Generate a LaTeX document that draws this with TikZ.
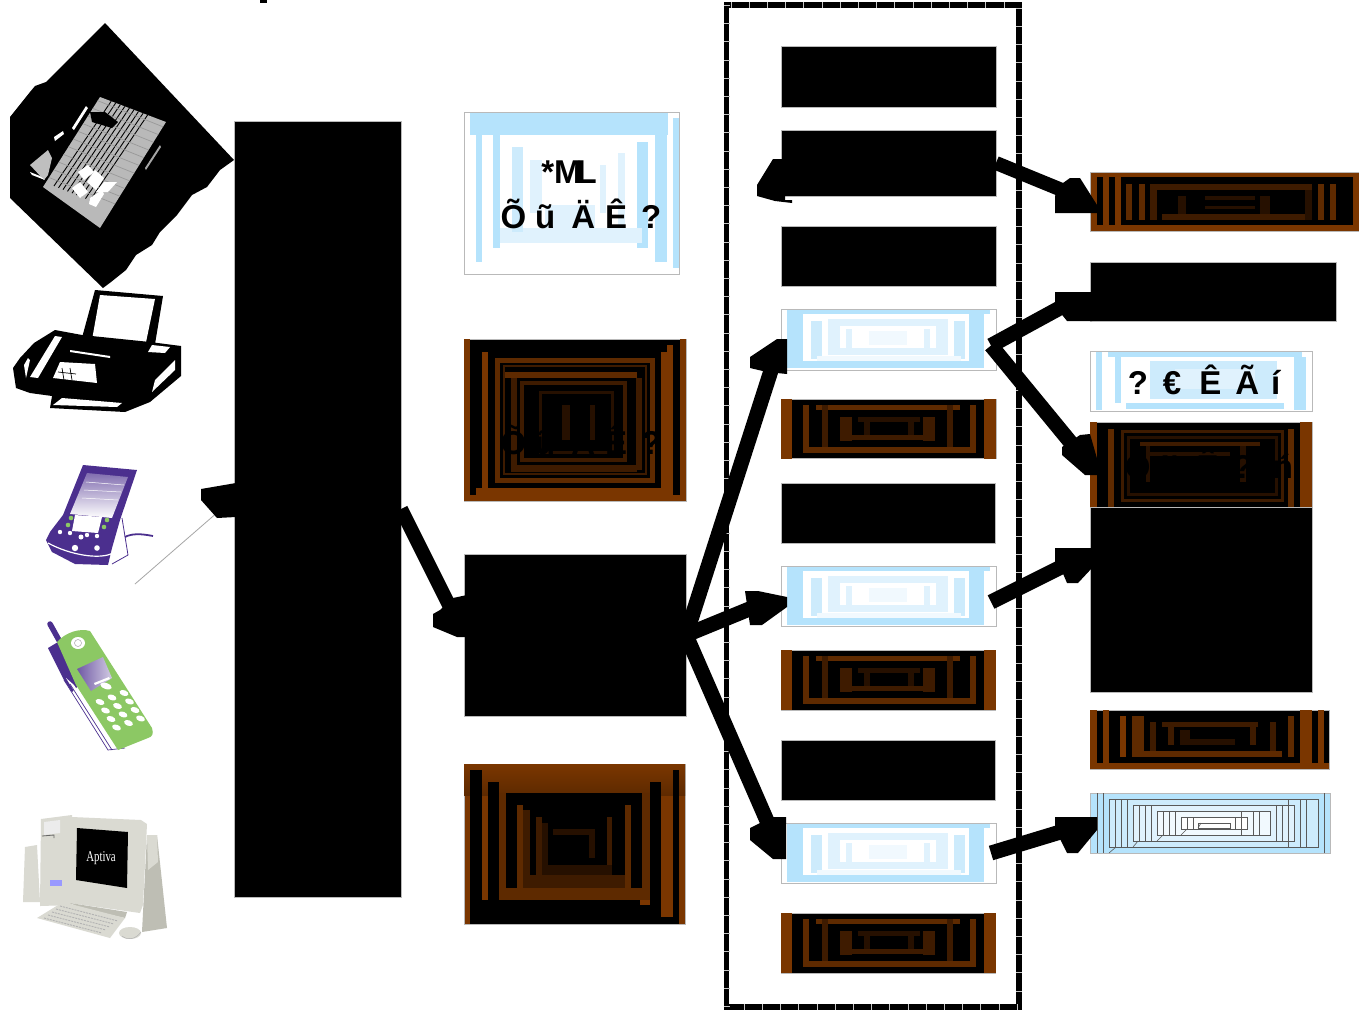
\documentclass[tikz,border=0pt]{standalone}
\usepackage{fontspec}
\setmainfont{Liberation Sans}
\newfontfamily\serifnar{Liberation Serif}
\usetikzlibrary{arrows.meta,calc}
\definecolor{brA}{HTML}{7A3600}
\definecolor{brB}{HTML}{5E2A00}
\definecolor{brC}{HTML}{3E1B00}
\definecolor{brD}{HTML}{261000}
\definecolor{blA}{HTML}{B5E3FC}
\definecolor{blB}{HTML}{CDEBFC}
\definecolor{blC}{HTML}{E0F2FD}
\definecolor{blD}{HTML}{F1F9FE}
\definecolor{purp}{HTML}{4B2F8E}
\definecolor{grn}{HTML}{8CC864}
\definecolor{beige}{HTML}{DADAD2}
\definecolor{beigeD}{HTML}{BEBEB4}
\tikzset{
  bxs/.style={inner sep=0pt,outer sep=0pt,draw=gray!55,line width=.6pt},
  conn/.style={line width=15pt,black,shorten >=9pt,-{Triangle[length=10pt,width=18pt]}},
  thinconn/.style={line width=.8pt,gray!70},
  headfill/.style={fill=black},
  garble/.style={inner sep=0pt,font=\bfseries\fontsize{33}{36}\selectfont,text=black},
}
\newcommand\RR[5]{\fill[#5] (#1,#2) rectangle (#3,#4);}
\newcommand\boxn[6]{\node[bxs,fill=#6,minimum width={(#4)-(#2)},minimum height={(#5)-(#3)}] (#1) at ({((#2)+(#4))/2},{((#3)+(#5))/2}) {};}
\newcommand\patBlue[2]{\begin{scope}[shift={(#1,#2)}]
  \RR{6}{1}{209}{5}{blA}\RR{6}{5}{22}{59}{blA}\RR{188}{5}{203}{59}{blA}\RR{12}{52}{203}{59}{blA}
  \RR{30}{12}{41}{50}{blB}\RR{173}{12}{184}{50}{blB}
  \RR{47}{10}{167}{46}{blC}\RR{59}{17}{155}{39}{white}
  \RR{65}{20}{71}{39}{blC}\RR{143}{20}{149}{39}{blC}\RR{88}{22}{126}{36}{blD}
  \RR{36}{47}{180}{52}{blD}
\end{scope}}
\newcommand\patBrown[2]{\begin{scope}[shift={(#1,#2)}]
  \RR{0}{0}{11}{60}{brA}\RR{203}{0}{215}{60}{brA}
  \RR{22}{6}{28}{54}{brB}\RR{189}{6}{195}{54}{brB}\RR{22}{48}{195}{54}{brB}
  \RR{35}{6}{179}{11}{brB}\RR{41}{6}{47}{48}{brC}\RR{166}{6}{172}{48}{brC}
  \RR{59}{18}{71}{42}{brC}\RR{142}{18}{154}{42}{brC}\RR{59}{36}{154}{41}{brC}
  \RR{77}{18}{139}{23}{brD}\RR{83}{18}{89}{36}{brD}\RR{127}{18}{133}{36}{brD}
\end{scope}}
\begin{document}
\begin{tikzpicture}[x=1pt,y=-1pt]
\useasboundingbox (0,0) rectangle (1359,1010);
\fill[white] (0,0) rectangle (1359,1010);
\RR{260}{0}{267}{3}{black}

% ---------- fax-phone in black diamond
\fill[black] (105,23) -- (234,160) -- (220,170) -- (207,187) -- (192,195) -- (177,215) -- (160,232) -- (152,245) -- (136,255) -- (126,270) -- (111,282) -- (103,288) -- (10,198) -- (10,117) -- (30,92) -- (35,86) -- (46,82) -- (56,72) -- cycle;
\fill[gray!55] (100,97) -- (166,122) -- (100,228) -- (43,187) -- cycle;
\begin{scope}
\clip (100,97) -- (166,122) -- (100,228) -- (43,187) -- cycle;
\foreach \d in {0,6,...,48}{\draw[black,line width=.9pt] ($(112,100)+(\d*.75,\d*.3)$) -- ++(-58,86);}
\foreach \d in {0,9,...,90}{\draw[gray!80,line width=.7pt] ($(96,100)+(\d*-.55,\d*.85)$) -- ++(70,28);}
\end{scope}
\fill[black] (90,112) -- (105,112) -- (118,122) -- (112,128) -- (92,122) -- cycle;
\fill[white] (78,172) -- (88,165) -- (94,172) -- (84,180) -- cycle;
\fill[white] (95,170) -- (104,178) -- (96,190) -- (87,182) -- cycle;
\fill[white] (72,188) -- (80,182) -- (88,192) -- (80,198) -- cycle;
\fill[white] (96,192) -- (104,182) -- (117,182) -- (108,192) -- cycle;
\fill[white] (90,198) -- (102,190) -- (104,194) -- (96,207) -- (89,204) -- cycle;
\fill[white] (74,130) -- (88,108) -- (86,106) -- (72,128) -- cycle;
\fill[white] (54,137) -- (63,131) -- (64,134) -- (55,141) -- cycle;
\fill[gray!50] (30,165) -- (48,150) -- (52,158) -- (48,175) -- (44,180) -- cycle;
\fill[white] (30,172) -- (40,176) -- (45,180) -- (32,175) -- cycle;
\fill[gray!70] (145,168) -- (160,145) -- (161,147) -- (146,170) -- cycle;

% ---------- fax
\fill[black] (95,290) -- (163,296) -- (154,350) -- (80,345) -- cycle;
\fill[white] (100,295) -- (155,299) -- (145,347) -- (92,340) -- cycle;
\fill[black] (34,343) -- (55,330) -- (82,335) -- (150,342) -- (181,346) -- (181,376) -- (150,402) -- (125,412) -- (50,408) -- (52,396) -- (30,393) -- (16,388) -- (13,368) -- (20,358) -- cycle;
\fill[white] (152,345) -- (170,347) -- (165,353) -- (148,352) -- cycle;
\fill[white] (175,360) -- (175,370) -- (152,392) -- (155,380) -- cycle;
\fill[white] (55,336) -- (62,337) -- (38,378) -- (30,377) -- cycle;
\fill[white] (60,362) -- (95,364) -- (97,383) -- (53,378) -- cycle;
\fill[white] (70,350) -- (110,356) -- (110,358) -- (70,352) -- cycle;
\fill[white] (62,398) -- (122,403) -- (117,407) -- (53,405) -- cycle;
\fill[white] (24,365) -- (28,358) -- (30,360) -- (26,378) -- cycle;
\draw[black,line width=.7pt] (58,372) -- (76,374) (62,368) -- (64,380) (70,368) -- (72,380);

% ---------- PDA
\draw[purp,line width=1.8pt] (120,540) .. controls (130,532) and (142,534) .. (153,536);
\fill[white] (122,518) -- (128,560) -- (112,565) -- (108,530) -- cycle;
\draw[purp,line width=.8pt] (122,518) -- (128,555) -- (112,564);
\fill[purp] (83,465) -- (137,470) -- (120,520) -- (112,548) -- (108,565) -- (75,564) -- (52,552) -- (46,540) -- (50,532) -- (63,515) -- cycle;
\shade[top color=purp!70,bottom color=white] (87,473) -- (128,477) -- (112,518) -- (70,514) -- cycle;
\fill[white] (75,515) -- (102,517) -- (98,533) -- (72,531) -- cycle;
\fill[grn] (71,518) circle (2.3pt) (68,525) circle (2.3pt) (107,520) circle (2.3pt) (104,527) circle (2.3pt);
\draw[white,line width=.5pt] (86,482) -- (124,485) (84,490) -- (121,492) (82,498) -- (118,500);
\fill[white] (60,532) circle (2.2pt) (70,533) circle (2.2pt) (87,535) circle (2.2pt) (97,536) circle (2.2pt);
\fill[white] (81,537) circle (2.5pt);
\fill[white] (75,548) circle (3.2pt) (97,548) circle (2.8pt);
\draw[white,line width=1.2pt] (48,543) .. controls (70,555) and (100,560) .. (113,553);

% ---------- mobile
\draw[purp,line width=5.5pt,line cap=round] (50,624) -- (60,642);
\fill[purp] (48,648) -- (58,642) -- (78,686) -- (72,692) -- (64,680) -- cycle;
\fill[white] (66,678) -- (110,749) -- (116,748) -- (74,685) -- cycle;
\draw[purp,line width=.7pt] (64,680) -- (108,750) -- (125,748) (70,684) -- (112,750);
\fill[grn] (57,642) .. controls (66,632) and (80,628) .. (90,631) -- (152,728) .. controls (154,734) and (152,737) .. (148,738) -- (118,750) -- (76,685) -- cycle;
\fill[white] (78,643) circle[x radius=7pt,y radius=6pt];
\draw[gray!70,line width=.5pt] (78,643) circle (3.5pt);
\shade[left color=purp!80,right color=purp!25] (77,669) -- (103,657) -- (112,678) -- (91,691) -- cycle;
\fill[white] (94,683) -- (109,677) -- (110,679) -- (95,685) -- cycle;
\fill[white,rotate around={-20:(106,686)}] (106,686) ellipse[x radius=6pt,y radius=3pt];
\foreach \i in {0,1,2,3}{\foreach \j in {0,1,2}{
  \fill[white,rotate around={-20:({100+\i*5.5+\j*12},{702+\i*8.5-\j*4.5})}] ({100+\i*5.5+\j*12},{702+\i*8.5-\j*4.5}) ellipse[x radius=4.6pt,y radius=2.8pt];}}

% ---------- computer
\fill[beige] (41,819) -- (72,815) -- (72,905) -- (40,906) -- cycle;
\fill[gray!15] (44,822) -- (60,820) -- (60,833) -- (44,835) -- cycle;
\draw[black!60,line width=.8pt] (42,836) -- (54,835) -- (54,838);
\fill[blue!40] (50,880) -- (62,880) -- (62,886) -- (50,886) -- cycle;
\fill[beige] (25,847) -- (37,845) -- (40,902) -- (23,902) -- cycle;
\fill[beigeD] (147,835) -- (157,835) -- (167,928) -- (142,932) -- cycle;
\fill[beige] (147,835) -- (157,835) -- (158,862) -- (148,870) -- cycle;
\fill[beige] (72,817) -- (141,820) -- (147,824) -- (143,905) -- (140,913) -- (70,903) -- cycle;
\fill[black] (77,828) -- (128,832) -- (127,888) -- (76,880) -- cycle;
\node[inner sep=0pt,text=white,font=\serifnar\fontsize{15}{16}\selectfont,xscale=.72] (aptiva) at (101,858) {Aptiva};
\fill[beigeD] (70,903) -- (127,912) -- (125,918) -- (80,908) -- cycle;
\fill[beige] (63,902) -- (125,918) -- (110,938) -- (37,918) -- cycle;
\foreach \i in {0,...,4}{\draw[gray!60,line width=.9pt,dash pattern=on 2pt off 1pt] ($(60,906)+(\i*-4,\i*3)$) -- ++(58,15);}
\fill[beige] (130,933) ellipse[x radius=11pt,y radius=6pt];
\draw[gray!60,line width=.5pt] (122,936) .. controls (128,941) and (136,939) .. (141,932);

% ---------- big left box
\boxn{big}{234}{121}{401}{897}{black}

% ---------- second column
\boxn{a}{464}{112}{679}{274}{white}
\RR{470}{113}{668}{135}{blA}\RR{476}{118}{482}{262}{blA}\RR{493}{130}{500}{248}{blA}
\RR{655}{130}{667}{262}{blA}\RR{673}{118}{679}{268}{blA}\RR{637}{142}{648}{248}{blA}
\RR{500}{228}{642}{243}{blC}\RR{512}{147}{523}{232}{blB}\RR{618}{153}{625}{232}{blC}
\RR{530}{160}{542}{213}{blC}\RR{600}{165}{606}{213}{blC}\RR{545}{205}{595}{228}{blC}
\boxn{b}{464}{339}{686}{501}{black}
\RR{464}{339}{470}{501}{brA}\RR{680}{339}{686}{501}{brA}\RR{464}{495}{686}{501}{brA}
\RR{482}{352}{488}{495}{brA}\RR{661}{352}{667}{495}{brA}\RR{667}{345}{673}{495}{brA}\RR{476}{488}{673}{495}{brA}
\draw[brB,line width=5pt] (497,360) rectangle (652,480);
\draw[brC,line width=2.5pt] (504,366) rectangle (646,474);
\RR{505}{372}{637}{378}{brB}\RR{511}{378}{517}{470}{brC}\RR{636}{378}{642}{470}{brC}\RR{511}{465}{637}{472}{brC}
\draw[brC,line width=4pt] (522,383) rectangle (625,460);
\draw[brD,line width=3pt] (540,392) rectangle (612,452);
\RR{562}{405}{570}{440}{brD}\RR{590}{405}{595}{440}{brD}
\boxn{c}{464}{554}{686}{716}{black}
\boxn{d}{464}{764}{685}{924}{brA}
\shade[top color=brA,bottom color=brB] (464,764) rectangle (685,795);
\RR{470}{770}{482}{924}{black}\RR{470}{900}{640}{924}{black}\RR{488}{782}{499}{900}{black}
\RR{655}{782}{661}{910}{black}\RR{673}{770}{679}{924}{black}\RR{640}{905}{661}{924}{black}\RR{661}{917}{673}{924}{black}
\RR{499}{793}{506}{888}{brB}
\RR{650}{782}{655}{905}{black}
\RR{642}{793}{650}{900}{brB}
\RR{499}{888}{650}{900}{brB}\RR{506}{793}{642}{888}{black}
\RR{517}{805}{523}{888}{brB}\RR{523}{810}{530}{888}{brC}\RR{625}{805}{631}{888}{brB}
\RR{536}{817}{542}{878}{brC}\RR{542}{823}{548}{872}{brD}\RR{607}{817}{612}{870}{brC}
\RR{530}{875}{625}{888}{brC}\RR{542}{865}{612}{875}{brD}
\RR{553}{829}{595}{835}{brD}\RR{589}{835}{595}{858}{brD}

% ---------- third column container
\draw[black,line width=5.5pt] (726.5,5) rectangle (1019,1007);
\draw[gray!45,line width=6pt,dash pattern=on .5pt off 17.7pt] (726.5,5) rectangle (1019,1007);
\boxn{ca}{781}{46}{996}{107}{black}
\boxn{cb}{781}{130}{996}{196}{black}
\boxn{cc}{781}{226}{996}{286}{black}
\boxn{cd}{781}{309}{996}{370}{white}\patBlue{781}{309}
\boxn{ce}{781}{399}{996}{458}{black}\patBrown{781}{399}
\boxn{cf}{781}{483}{995}{543}{black}
\boxn{cg}{781}{566}{996}{626}{white}\patBlue{781}{566}
\boxn{ch}{781}{650}{995}{710}{black}\patBrown{781}{650}
\boxn{ci}{781}{740}{995}{800}{black}
\boxn{cj}{781}{823}{996}{883}{white}\patBlue{781}{823}
\boxn{ck}{781}{913}{995}{973}{black}\patBrown{781}{913}

% ---------- fourth column
\boxn{da}{1090}{172}{1359}{231}{brA}
\begin{scope}[shift={(1090,172)}]
\RR{7}{5}{13}{53}{black}\RR{19}{5}{25}{53}{black}\RR{31}{5}{257}{53}{black}\RR{257}{5}{263}{53}{black}
\RR{36}{12}{42}{48}{brB}\RR{49}{12}{55}{48}{brB}\RR{60}{12}{222}{18}{brC}\RR{60}{18}{67}{48}{brC}
\RR{72}{42}{220}{48}{brC}\RR{215}{18}{222}{48}{brD}\RR{228}{12}{234}{48}{brB}\RR{240}{12}{246}{48}{brB}
\RR{88}{24}{96}{42}{brD}\RR{170}{24}{180}{42}{brD}\RR{115}{24}{165}{28}{brD}\RR{115}{34}{165}{37}{brD}
\end{scope}
\boxn{db}{1090}{262}{1336}{321}{black}
\boxn{dc}{1090}{351}{1312}{411}{white}
\begin{scope}[shift={(1090,351)}]
\RR{6}{1}{12}{59}{blA}\RR{18}{1}{212}{6}{blA}\RR{25}{6}{31}{52}{blA}\RR{204}{6}{216}{59}{blA}\RR{36}{52}{194}{58}{blA}
\RR{60}{10}{187}{48}{blB}\RR{85}{18}{165}{38}{blC}
\end{scope}
\boxn{dd}{1090}{422}{1312}{510}{black}
\begin{scope}[shift={(1090,422)}]
\RR{0}{0}{7}{88}{brA}\RR{18}{7}{24}{88}{brB}\RR{210}{0}{222}{88}{brA}\RR{198}{7}{204}{88}{brB}
\draw[brC,line width=3pt] (32,9) rectangle (192,78);
\draw[brD,line width=3pt] (38,15) rectangle (186,72);
\RR{50}{20}{170}{24}{brC}\RR{60}{30}{140}{34}{brD}\RR{56}{24}{60}{60}{brD}\RR{150}{24}{156}{60}{brD}
\end{scope}
\boxn{de}{1090}{507}{1312}{692}{black}
\boxn{df}{1090}{710}{1329}{769}{black}
\begin{scope}[shift={(1090,710)}]
\RR{0}{0}{7}{59}{brA}\RR{0}{53}{239}{59}{brA}\RR{13}{0}{19}{53}{brA}\RR{228}{0}{234}{53}{brA}\RR{210}{0}{222}{53}{brA}
\RR{30}{6}{36}{47}{brA}\RR{42}{6}{54}{47}{brB}\RR{42}{41}{192}{47}{brB}\RR{198}{6}{204}{47}{brB}
\RR{60}{12}{66}{41}{brC}\RR{72}{12}{168}{17}{brC}\RR{180}{12}{186}{41}{brC}
\RR{78}{17}{84}{35}{brC}\RR{160}{17}{166}{35}{brC}\RR{90}{20}{100}{35}{brD}\RR{95}{29}{145}{35}{brD}
\end{scope}
\boxn{dg}{1090}{793}{1330}{853}{blA}
\fill[blB] (1109,799) rectangle (1318,847);
\fill[blC] (1133,805) rectangle (1294,841);
\fill[blD] (1157,811) rectangle (1270,835);
\fill[white] (1181,817) rectangle (1247,829);
\begin{scope}[draw=black!65,line width=.6pt]
\draw (1109,799) rectangle (1318,847) (1133,805) rectangle (1294,841) (1157,811) rectangle (1270,835) (1181,817) rectangle (1247,829) (1198,823) rectangle (1230,828);
\draw (1109,853) -- (1116,847) (1133,847) -- (1138,841) (1157,841) -- (1163,835) (1181,835) -- (1187,829) (1198,828) -- (1201,823);
\foreach \x in {1097,1103,1115,1121,1127,1139,1145,1151,1163,1169,1175,1187,1193,1235,1241,1253,1259,1276,1282,1288,1300,1306,1324}{
  \pgfmathsetmacro{\dd}{min(abs(\x-1090),abs(1330-\x))}
  \pgfmathsetmacro{\yt}{\dd<19?793:(\dd<43?799:(\dd<67?805:(\dd<91?811:817)))}
  \pgfmathsetmacro{\yb}{\dd<19?853:(\dd<43?847:(\dd<67?841:(\dd<91?835:829)))}
  \draw (\x,\yt) -- (\x,\yb);}
\end{scope}

% ---------- texts
\node[garble] (t1a) at (569,172) {*M\kern-5pt L};
\node[garble] (t1b) at (581,214) {Õ\kern9pt ũ\kern16pt Ä\kern10pt Ê\kern14pt ?};
\node[garble] (t2) at (581,440) {Õ\kern9pt ũ\kern16pt Ä\kern10pt Ê\kern14pt ?};
\node[garble] (t3) at (1204,380) {?\kern15pt €\kern18pt Ê\kern14pt Ã\kern12pt í};
\node[garble] (t4) at (1209,464) {Õ\kern10pt Ľ\kern16pt Ê\kern14pt ?\kern20pt ń};

% ---------- connectors
\coordinate (pdaend) at (135,584);
\draw[thinconn] (pdaend) -- ([yshift=11pt]big.west);
\fill[headfill] (201,489) -- (236,483) -- (236,517) -- (217,518) -- (201,500) -- cycle;
\draw[conn,line width=14pt] (big.east) -- (c.west);
\fill[headfill] (433,614) -- (433,627) -- (457,637) -- (467,637) -- (467,595) -- (453,598) -- (440,610) -- cycle;
\draw[conn] (c.east) -- (cd.west);
\fill[headfill] (750,357) -- (750,368) -- (767,372) -- (787,374) -- (787,339) -- (777,339) -- cycle;
\draw[conn] (c.east) -- (cg.west);
\fill[headfill] (745,591) -- (758,591) -- (787,597) -- (787,607) -- (762,625) -- (750,625) -- cycle;
\draw[conn] (c.east) -- (cj.west);
\fill[headfill] (750,828) -- (772,817) -- (786,817) -- (786,859) -- (773,859) -- (750,840) -- cycle;
\draw[conn,line width=14pt] (cb.east) -- (da.west);
\fill[headfill] (1055,196) -- (1055,213) -- (1097,213) -- (1097,205) -- (1080,178) -- (1070,178) -- (1063,183) -- cycle;
\draw[black,line width=8pt,-{Triangle[length=6pt,width=10pt]}] ([xshift=8pt]cb.west) -- ([xshift=-14pt,yshift=-10pt]cb.west);
\fill[headfill] (757,185) -- (773,159) -- (785,159) -- (785,200) -- (792,200) -- (792,203) -- (775,201) -- (757,196) -- cycle;
\draw[conn] ([xshift=-5pt,yshift=-6pt]cd.east) -- (db.west);
\fill[headfill] (1055,292) -- (1092,292) -- (1092,321) -- (1067,321) -- (1055,306) -- cycle;
\draw[conn] ([xshift=-5pt,yshift=-6pt]cd.east) -- (dd.west);
\fill[headfill] (1062,447) -- (1080,435) -- (1090,434) -- (1098,462) -- (1097,475) -- (1085,475) -- (1062,455) -- cycle;
\draw[conn] ([xshift=-5pt,yshift=-6pt]cg.east) -- ([yshift=47pt]de.west);
\fill[headfill] (1055,548) -- (1092,548) -- (1092,568) -- (1078,583) -- (1067,583) -- (1058,562) -- (1055,562) -- cycle;
\draw[conn] ([xshift=-5pt]cj.east) -- (dg.west);
\fill[headfill] (1055,817) -- (1097,817) -- (1097,830) -- (1078,853) -- (1067,853) -- (1058,835) -- (1055,835) -- cycle;
\end{tikzpicture}
\end{document}
